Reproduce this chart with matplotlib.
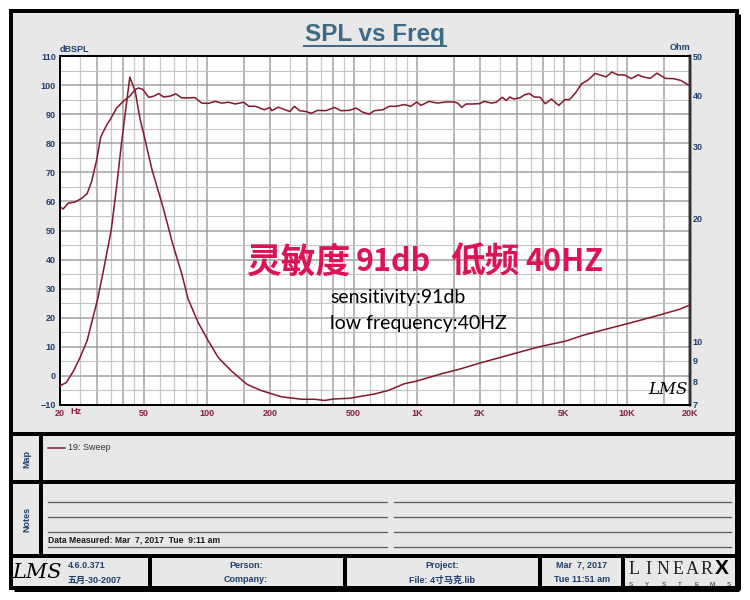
import matplotlib
matplotlib.use("Agg")
import matplotlib.pyplot as plt
from matplotlib.patches import Rectangle
from matplotlib import font_manager

# ---------------- data ----------------
spl_freq = [20, 20.7, 21.9, 23.6, 25.4, 26.9, 28.3, 29.9, 31.3, 33.4, 34.6, 37.2, 40, 43, 45.6,
            47.4, 49.6, 52.9, 55.9, 59, 62.2, 66.9, 71.2, 75.9, 81.6, 87.8, 94.6, 101.7, 109.5,
            117.8, 126.8, 136.6, 149.9, 158.7, 170.9, 187.6, 200, 204, 219, 236, 249, 261, 277,
            297, 314, 337, 369, 406, 435, 478, 514, 552, 594, 627, 688, 740, 796, 871, 937,
            1000, 1046, 1145, 1255, 1375, 1508, 1565, 1636, 1717, 1845, 1989, 2100, 2262, 2390,
            2553, 2670, 2770, 2905, 3095, 3273, 3432, 3630, 3870, 4090, 4380, 4745, 5070, 5340,
            5710, 6100, 6500, 7070, 7530, 7960, 8500, 9060, 9750, 10500, 11340, 12000, 12920,
            13920, 15270, 16760, 18070, 19500, 20000]
spl_db = [58.1, 57.4, 59.4, 59.8, 61.1, 62.6, 66.9, 74.3, 82.3, 86.3, 88.0, 92.1, 94.4, 96.2, 98.5,
          99.0, 98.5, 95.8, 96.2, 97.1, 95.9, 96.2, 97.0, 95.6, 95.6, 95.7, 93.8, 93.7, 94.4,
          93.8, 94.1, 93.5, 94.1, 92.7, 92.7, 91.5, 92.3, 91.2, 92.4, 91.5, 90.9, 92.7, 91.2,
          90.9, 90.3, 91.3, 91.2, 92.3, 91.2, 91.3, 92.1, 90.7, 90.0, 91.2, 91.5, 92.7, 92.7, 93.3, 92.7,
          94.2, 93.0, 94.4, 93.8, 94.2, 94.2, 93.8, 92.3, 93.5, 93.5, 93.6, 94.4, 93.8, 94.1,
          95.8, 94.7, 95.9, 95.2, 95.6, 96.7, 97.1, 95.9, 95.8, 93.6, 95.2, 93.0, 95.0, 95.0,
          97.4, 100.5, 101.6, 104.0, 103.4, 102.8, 104.5, 103.5, 103.5, 102.2, 103.5, 102.8, 102.3,
          104.1, 102.3, 102.2, 101.6, 100.2, 99.7]

imp_freq = [20, 21.4, 23.2, 24.9, 26.9, 28.3, 30.2, 32.5, 35.1, 37.2, 39.4, 43, 45.6, 48.2, 49.6,
            54.9, 61.8, 68.7, 75.9, 81.6, 91.1, 101.7, 113.5, 131, 155, 182, 227, 283, 327, 364,
            400, 478, 631, 733, 871, 1000, 1315, 1565, 2019, 2718, 3800, 5150, 6200, 7700,
            10500, 14400, 17800, 20000]
imp_ohm = [7.8, 7.94, 8.48, 9.14, 10.04, 11.13, 12.69, 15.29, 18.8, 23.96, 31.1, 44.4, 41.0, 34.9, 32.9,
           26.3, 21.4, 17.4, 14.7, 12.69, 11.13, 10.04, 9.14, 8.48, 7.87, 7.59, 7.33, 7.23, 7.23, 7.18,
           7.24, 7.27, 7.45, 7.60, 7.89, 8.01, 8.35, 8.54, 8.88, 9.26, 9.71, 10.04, 10.37, 10.68,
           11.13, 11.63, 12.0, 12.3]

x_ticks = [20, 50, 100, 200, 500, 1000, 2000, 5000, 10000, 20000]
x_labels = ["20", "50", "100", "200", "500", "1K", "2K", "5K", "10K", "20K"]
y_ticks = list(range(-10, 111, 10))
ohm_ticks = [7, 8, 9, 10, 20, 30, 40, 50]

# ---------------- styles ----------------
W, H = 750, 600
PX = 0.72  # points per pixel
CURVE = "#84182c"
BLUE = "#1f3f6e"
TICKRED = "#8c1c40"
PANEL = "#e8e8e8"
PINK = "#dc1456"
SANS = ["Liberation Sans", "Noto Sans CJK SC", "DejaVu Sans"]
plt.rcParams["font.family"] = SANS

installed = {f.name for f in font_manager.fontManager.ttflist}
NARROW = "Liberation Sans Narrow" if "Liberation Sans Narrow" in installed else "Noto Sans CJK SC"
narrow_size = 27 if NARROW == "Liberation Sans Narrow" else 22

fig = plt.figure(figsize=(7.5, 6), dpi=100)
fig.patch.set_facecolor("white")

bg = fig.add_axes([0, 0, 1, 1])
bg.set_xlim(0, W)
bg.set_ylim(H, 0)
bg.axis("off")
bg.set_zorder(0)

# main panel with border
bg.add_patch(Rectangle((11, 11), 726, 577, facecolor=PANEL, edgecolor="black", lw=4 * PX))
bg.plot([739, 739], [14, 590], color="black", lw=3 * PX, solid_capstyle="butt")
bg.plot([14, 739], [590, 590], color="black", lw=3 * PX, solid_capstyle="butt")

# separators
for yy in (434, 482, 556):
    bg.plot([11, 737], [yy, yy], color="black", lw=4 * PX, solid_capstyle="butt")
bg.plot([41, 41], [434, 556], color="black", lw=4 * PX, solid_capstyle="butt")
for xx in (150, 345, 540, 623):
    bg.plot([xx, xx], [556, 588], color="black", lw=4 * PX, solid_capstyle="butt")

# title
bg.text(375, 35, "SPL vs Freq", ha="center", va="center", fontsize=17.5,
        fontweight="bold", color="#3d6a85")
bg.plot([304, 446], [46, 46], color="#3d6a85", lw=2 * PX)

# axis unit labels
bg.text(60, 50, "dBSPL", ha="left", va="center", fontsize=6.5, fontweight="bold", color=BLUE)
bg.text(690, 48, "Ohm", ha="right", va="center", fontsize=6.5, fontweight="bold", color=BLUE)
bg.text(70, 412, "Hz", ha="left", va="center", fontsize=6.5, fontweight="bold", color=TICKRED)

# ---------------- chart ----------------
ax = fig.add_axes([60 / W, 1 - 405 / H, 630 / W, 349 / H])
ax.set_zorder(2)
ax.set_xscale("log")
ax.set_xlim(20, 20000)
ax.set_ylim(-10, 110)
ax.set_facecolor("white")

# grid
for dec in (10, 100, 1000, 10000):
    for m in (1, 1.5, 2, 2.5, 3, 3.5, 4, 4.5, 5, 6, 7, 8, 9):
        f = m * dec
        if f <= 20 or f >= 20000:
            continue
        dark = m in (1, 1.5, 2, 3, 4, 5)
        ax.axvline(f, color="#a4a4a4" if dark else "#c6c6c6",
                   lw=(1.3 if dark else 1.0) * PX * 1.2, zorder=1)
for v in range(-5, 110, 5):
    dark = v % 10 == 0
    ax.axhline(v, color="#a0a0a0" if dark else "#c4c4c4",
               lw=(1.5 if dark else 1.1) * PX, zorder=1)

ax.plot(spl_freq, spl_db, color=CURVE, lw=1.4 * PX * 1.1, zorder=3)

ax.set_xticks(x_ticks)
ax.set_xticklabels(x_labels)
ax.xaxis.set_minor_locator(matplotlib.ticker.NullLocator())
ax.set_yticks(y_ticks)
ax.tick_params(axis="x", length=0, pad=3, labelsize=6.5, labelcolor=TICKRED)
ax.tick_params(axis="y", length=0, pad=3, labelsize=6.5, labelcolor=BLUE)
for lab in ax.get_xticklabels() + ax.get_yticklabels():
    lab.set_fontweight("bold")

ax2 = ax.twinx()
ax2.set_yscale("log")
ax2.set_ylim(7, 50)
ax2.plot(imp_freq, imp_ohm, color=CURVE, lw=1.4 * PX * 1.1, zorder=3)
ax2.set_yticks(ohm_ticks)
ax2.set_yticklabels([str(t) for t in ohm_ticks])
ax2.yaxis.set_minor_locator(matplotlib.ticker.NullLocator())
ax2.tick_params(axis="y", length=0, pad=2, labelsize=6.5, labelcolor=BLUE)
for lab in ax2.get_yticklabels():
    lab.set_fontweight("bold")

for a in (ax, ax2):
    for s in ("left", "bottom", "top"):
        a.spines[s].set_color("black")
        a.spines[s].set_linewidth(2 * PX)
    a.spines["right"].set_color("#303030")
    a.spines["right"].set_linewidth(2.5 * PX)


def px_text(x, y, s, **kw):
    ax2.text((x - 60) / 630, 1 - (y - 56) / 349, s, transform=ax.transAxes, zorder=5, **kw)


# annotations inside the chart
CJK = ["Noto Sans CJK SC", "DejaVu Sans"]
px_text(246, 262, "灵敏度", ha="left", va="center", fontsize=25, fontweight="bold",
        color=PINK, family=CJK)
px_text(356, 262, "91db", ha="left", va="center", fontsize=narrow_size, fontweight="bold",
        color=PINK, family=[NARROW, "DejaVu Sans"])
px_text(450, 262, "低频", ha="left", va="center", fontsize=25, fontweight="bold",
        color=PINK, family=CJK)
px_text(525, 262, "40HZ", ha="left", va="center", fontsize=narrow_size, fontweight="bold",
        color=PINK, family=[NARROW, "DejaVu Sans"])
px_text(330, 298, "sensitivity:91db", ha="left", va="center", fontsize=14,
        color="black", family=["Lato", "DejaVu Sans"])
px_text(330, 323, "low frequency:40HZ", ha="left", va="center", fontsize=14,
        color="black", family=["Lato", "DejaVu Sans"])
px_text(668, 389, "LMS", ha="center", va="center", fontsize=12,
        fontstyle="italic", color="black", family=["DejaVu Serif"])

# ---------------- map / notes ----------------
bg.text(27, 459, "Map", rotation=90, ha="center", va="center", fontsize=6.5,
        fontweight="bold", color=BLUE)
bg.text(27, 519, "Notes", rotation=90, ha="center", va="center", fontsize=6.5,
        fontweight="bold", color=BLUE)
bg.plot([48, 65], [448, 448], color=CURVE, lw=1.5 * PX)
bg.text(68, 448, "19: Sweep", ha="left", va="center", fontsize=6.5, color="#333333")

for yy in (502, 517, 532, 547):
    bg.plot([48, 387], [yy, yy], color="#606060", lw=1.3 * PX)
    bg.plot([394, 731], [yy, yy], color="#606060", lw=1.3 * PX)
bg.text(48, 545, "Data Measured: Mar  7, 2017  Tue  9:11 am", ha="left", va="bottom",
        fontsize=6.2, fontweight="bold", color="#1a1a1a")

# ---------------- footer ----------------
bg.text(37, 572, "LMS", ha="center", va="center", fontsize=15, fontstyle="italic",
        color="black", family=["DejaVu Serif"])
bg.text(68, 565, "4.6.0.371", ha="left", va="center", fontsize=6.5, fontweight="bold", color=BLUE)
bg.text(68, 580, "五月-30-2007", ha="left", va="center", fontsize=6.5, fontweight="bold", color=BLUE)
bg.text(246, 565, "Person:", ha="center", va="center", fontsize=6.5, fontweight="bold", color=BLUE)
bg.text(246, 580, "Company:", ha="center", va="center", fontsize=6.5, fontweight="bold", color=BLUE)
bg.text(442, 565, "Project:", ha="center", va="center", fontsize=6.5, fontweight="bold", color=BLUE)
bg.text(442, 580, "File: 4寸马克.lib", ha="center", va="center", fontsize=6.5, fontweight="bold", color=BLUE)
bg.text(582, 565, "Mar  7, 2017", ha="center", va="center", fontsize=6.5, fontweight="bold", color=BLUE)
bg.text(582, 580, "Tue 11:51 am", ha="center", va="center", fontsize=6.5, fontweight="bold", color=BLUE)

for i, ch in enumerate("LINEAR"):
    bg.text(634 + i * 14.6, 570, ch, ha="center", va="center", fontsize=13,
            family=["Liberation Serif"], color="#222222")
bg.text(722, 569, "X", ha="center", va="center", fontsize=15, fontweight="bold",
        family=["Liberation Sans"], color="black")
for i, ch in enumerate("SYSTEMS"):
    bg.text(631 + i * 16.3, 584, ch, ha="center", va="center", fontsize=4.5,
            color="#222222")

fig.savefig("out.png", dpi=100, facecolor="white")
